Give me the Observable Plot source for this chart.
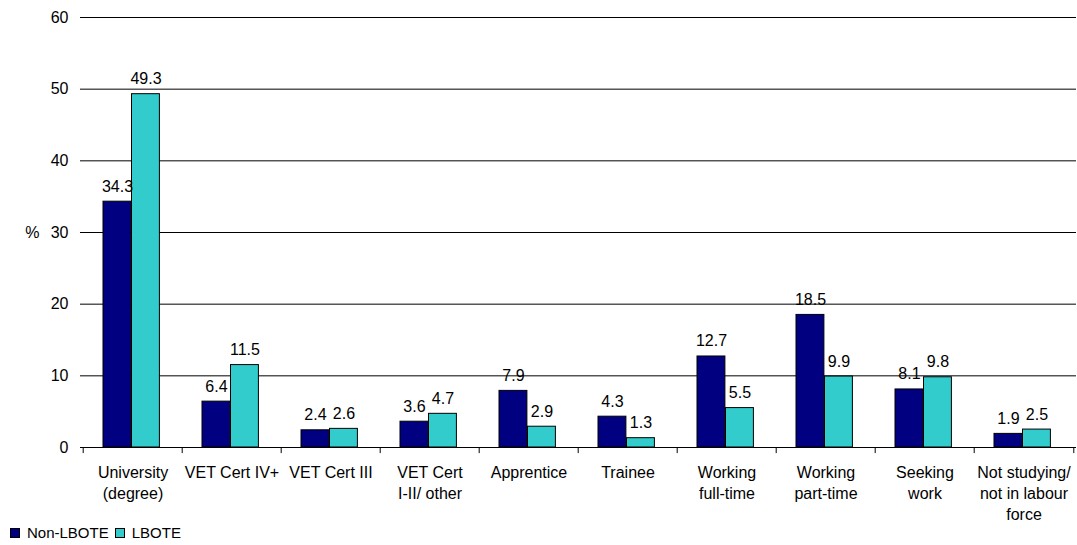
<!DOCTYPE html>
<html>
<head>
<meta charset="utf-8">
<script src="https://cdn.jsdelivr.net/npm/d3@7"></script>
<script src="https://cdn.jsdelivr.net/npm/@observablehq/plot@0.6"></script>
<style>
  html, body { margin: 0; padding: 0; background: #fff; }
  #wrap { position: relative; width: 1077px; height: 545px; font-family: "Liberation Sans", Arial, sans-serif; }
  #legend { position: absolute; left: 10px; top: 524px; display: flex; align-items: center; font-size: 15px; color: #000; }
  #legend .sw { width: 8px; height: 8px; border: 1px solid #000; display: inline-block; margin-right: 7px; }
  #legend .item { display: flex; align-items: center; margin-right: 6px; }
</style>
</head>
<body>
<div id="wrap">
  <div id="chart"></div>
  <div id="legend"></div>
</div>
<script>
// Destinations of school leavers, by language background (%)
const categories = [
  "University\n(degree)", "VET Cert IV+", "VET Cert III", "VET Cert\nI-II/ other",
  "Apprentice", "Trainee", "Working\nfull-time", "Working\npart-time",
  "Seeking\nwork", "Not studying/\nnot in labour\nforce"
];
const nonLbote = [34.3, 6.4, 2.4, 3.6, 7.9, 4.3, 12.7, 18.5, 8.1, 1.9];
const lbote    = [49.3, 11.5, 2.6, 4.7, 2.9, 1.3, 5.5, 9.9, 9.8, 2.5];
const seriesNames = ["Non-LBOTE", "LBOTE"];
const seriesColors = ["#000080", "#33CCCC"];
const yTicks = [0, 10, 20, 30, 40, 50, 60];
const yUnitLabel = "%";

const rows = categories.flatMap((c, i) => [
  {category: c, series: seriesNames[0], value: nonLbote[i]},
  {category: c, series: seriesNames[1], value: lbote[i]}
]);

const width = 1077, height = 522;
const marginLeft = 80, marginRight = 1, marginTop = 17, marginBottom = 75;
const bw = (width - marginLeft - marginRight) / categories.length; // band width per category
const groupInset = 20, barWidth = 28.5;

// horizontal placement of each series inside its category band
const place = [
  {insetLeft: groupInset, insetRight: bw - groupInset - barWidth, dx: groupInset + barWidth / 2 - bw / 2},
  {insetLeft: groupInset + barWidth, insetRight: bw - groupInset - 2 * barWidth, dx: groupInset + 1.5 * barWidth - bw / 2}
];

const marks = [
  Plot.ruleY(yTicks.filter(d => d > 0), {stroke: "#000", strokeWidth: 1}),
  ...seriesNames.map((s, k) => Plot.barY(rows.filter(d => d.series === s), {
    x: "category", y: "value", fill: seriesColors[k], stroke: "#000", strokeWidth: 1,
    insetLeft: place[k].insetLeft, insetRight: place[k].insetRight
  })),
  ...seriesNames.map((s, k) => Plot.text(rows.filter(d => d.series === s), {
    x: "category", y: "value", text: d => d.value.toFixed(1),
    dx: place[k].dx, dy: -10, lineAnchor: "bottom", fontSize: 16, fill: "#000"
  })),
  Plot.ruleY([0], {stroke: "#000", strokeWidth: 1}),
  // category boundary ticks below the baseline
  Plot.ruleX(categories, {x: d => d, dx: -bw / 2, y1: 0, y2: -0.85, stroke: "#000"}),
  Plot.ruleX(categories.slice(-1), {x: d => d, dx: bw / 2, y1: 0, y2: -0.85, stroke: "#000"}),
  // category labels
  Plot.text(categories, {
    x: d => d, text: d => d, frameAnchor: "bottom", dy: 15,
    lineAnchor: "top", lineHeight: 1.33, fontSize: 16, fill: "#000"
  }),
  // unit label beside the value axis
  Plot.text([30], {y: d => d, text: () => yUnitLabel, frameAnchor: "left", dx: -41, textAnchor: "end", fontSize: 16, fill: "#000"})
];

const chart = Plot.plot({
  width, height, marginLeft, marginRight, marginTop, marginBottom,
  style: {fontFamily: "'Liberation Sans', Arial, sans-serif", fontSize: "16px", color: "#000", background: "#fff", overflow: "visible"},
  x: {domain: categories, padding: 0, axis: null},
  y: {domain: [0, 60], ticks: yTicks, tickSize: 0, tickPadding: 12, label: null},
  marks
});
document.getElementById("chart").appendChild(chart);

// legend below the chart
const legend = document.getElementById("legend");
seriesNames.forEach((s, k) => {
  const item = document.createElement("span");
  item.className = "item";
  const sw = document.createElement("span");
  sw.className = "sw";
  sw.style.background = seriesColors[k];
  item.appendChild(sw);
  item.appendChild(document.createTextNode(s));
  legend.appendChild(item);
});
</script>
</body>
</html>
